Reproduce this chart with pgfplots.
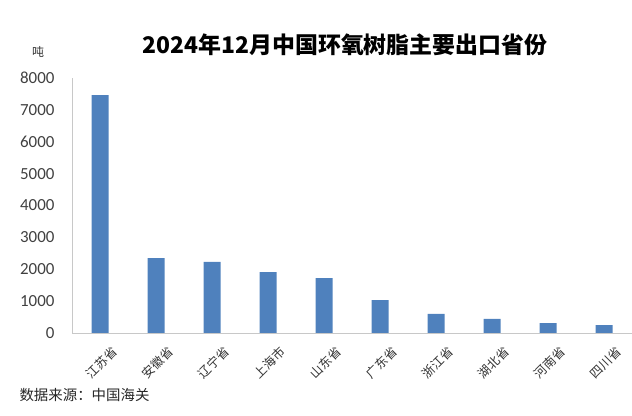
\documentclass[border=0pt]{standalone}
\usepackage{pgfplots}
\pgfplotsset{compat=1.18}
\usepackage{fontspec}
\setmainfont{Carlito}
\newfontfamily\cjk{Noto Sans CJK SC}
\definecolor{barblue}{RGB}{79,129,189}
\definecolor{axgray}{RGB}{200,200,200}
\begin{document}
\begin{tikzpicture}
\path[use as bounding box] (0,0) rectangle (632bp,416bp);
\begin{axis}[
  at={(72bp,83bp)}, anchor=south west,
  scale only axis, width=560bp, height=255bp,
  xmin=-0.5, xmax=9.5, ymin=0, ymax=8000,
  axis x line*=bottom, axis y line*=left,
  axis line style={axgray, line width=0.8pt, -},
  ytick={0,1000,...,8000},
  major tick length=0pt,
  xtick=data,
  xticklabels={江苏省,安徽省,辽宁省,上海市,山东省,广东省,浙江省,湖北省,河南省,四川省},
  xticklabel style={font=\cjk\fontsize{12.5}{14}\selectfont, rotate=45, anchor=north east, inner sep=0pt, yshift=-16bp, xshift=-1bp, text=black!80},
  yticklabel style={font=\fontsize{17}{19}\selectfont, text=black!75, xshift=-14bp},
  /pgf/number format/assume math mode=true,
  scaled y ticks=false,
  yticklabel={\pgfmathprintnumber[fixed,1000 sep={}]{\tick}},
  ybar, bar width=17bp,
  clip=false,
]
\addplot[fill=barblue, draw=none] coordinates {
(0,7460) (1,2350) (2,2230) (3,1910) (4,1720) (5,1030) (6,600) (7,440) (8,310) (9,250)
};
\end{axis}
\node[font=\cjk\bfseries\fontsize{23}{25}\selectfont] at (345bp,371bp) {2024年12月中国环氧树脂主要出口省份};
\node[font=\cjk\fontsize{12}{14}\selectfont, text=black!80] at (38bp,364bp) {吨};
\node[font=\cjk\fontsize{14.5}{16}\selectfont, anchor=west, text=black!85] at (16bp,21bp) {数据来源：中国海关};
\end{tikzpicture}
\end{document}
